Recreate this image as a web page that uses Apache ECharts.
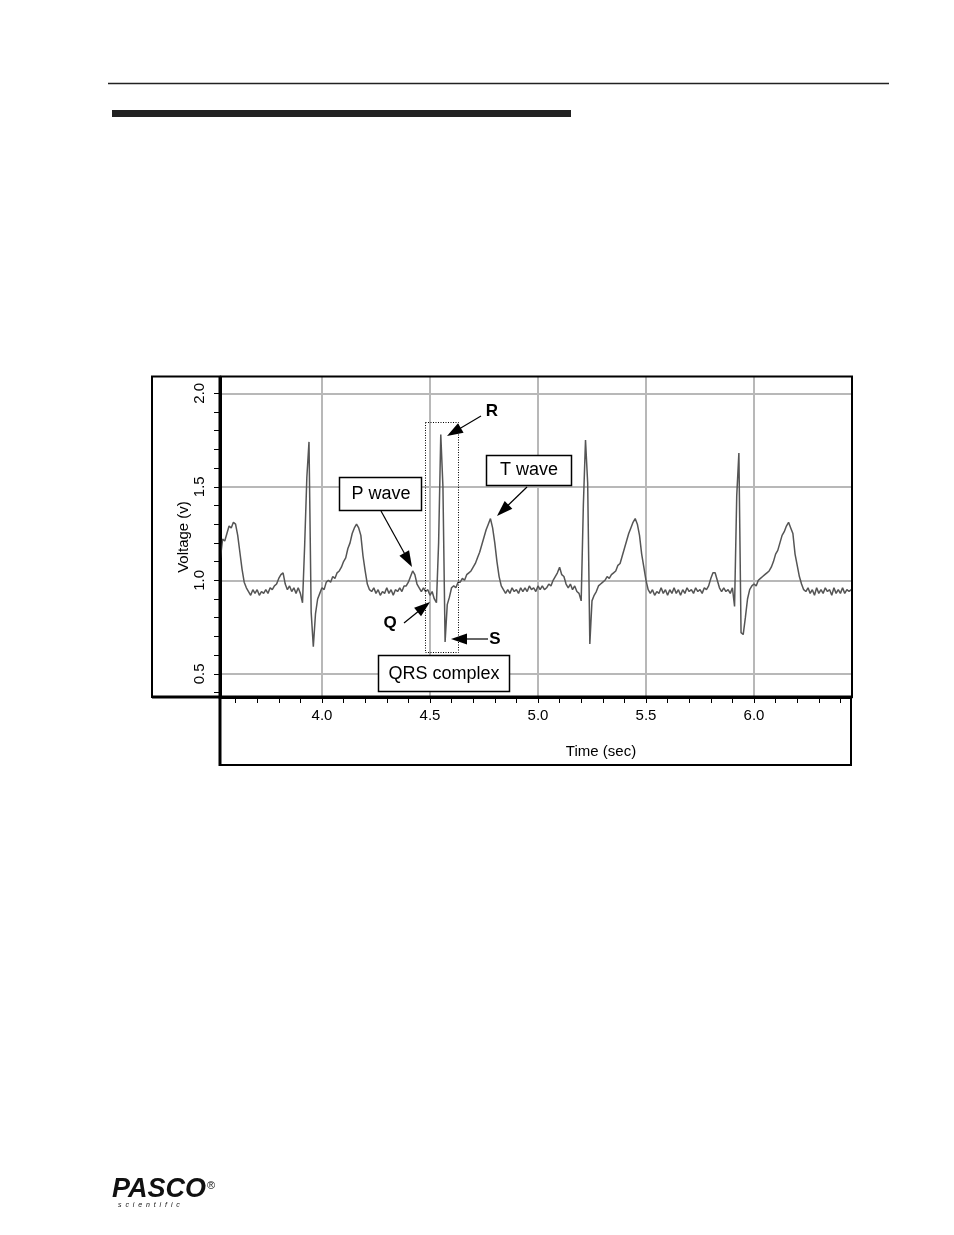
<!DOCTYPE html>
<html><head><meta charset="utf-8">
<script src="https://cdn.jsdelivr.net/npm/echarts@6/dist/echarts.min.js"></script>
<style>html,body{margin:0;padding:0;background:#fff}#c{width:954px;height:1235px}</style>
</head><body><div id="c"></div>
<script>
// ---- data (sampled every 0.01 s starting at 3.53 s) ----
const T_START = 3.53;
const T_STEP = 0.01;
const voltage = [
  1.12, 1.22, 1.21, 1.25, 1.29, 1.28, 1.31, 1.30, 1.24, 1.15,
  1.06, 0.99, 0.96, 0.94, 0.92, 0.95, 0.93, 0.95, 0.92, 0.94,
  0.93, 0.95, 0.93, 0.96, 0.95, 0.97, 0.98, 1.01, 1.03, 1.04,
  0.98, 0.95, 0.97, 0.94, 0.96, 0.93, 0.96, 0.93, 0.88, 1.19,
  1.55, 1.74, 0.83, 0.645, 0.82, 0.90, 0.93, 0.96, 0.95, 0.99,
  1.00, 0.99, 1.02, 1.01, 1.04, 1.05, 1.07, 1.10, 1.12, 1.17,
  1.20, 1.25, 1.28, 1.30, 1.28, 1.24, 1.13, 1.05, 0.98, 0.95,
  0.94, 0.96, 0.93, 0.95, 0.92, 0.94, 0.93, 0.96, 0.93, 0.95,
  0.92, 0.95, 0.94, 0.96, 0.94, 0.97, 0.97, 0.99, 1.02, 1.05,
  1.03, 0.98, 0.96, 0.94, 0.96, 0.94, 0.95, 0.92, 0.94, 0.90,
  0.88, 1.20, 1.78, 1.50, 0.67, 0.87, 0.91, 0.96, 0.97, 0.96,
  0.99, 0.99, 1.01, 1.00, 1.03, 1.04, 1.05, 1.07, 1.09, 1.12,
  1.15, 1.19, 1.23, 1.27, 1.30, 1.33, 1.28, 1.20, 1.10, 1.02,
  0.97, 0.95, 0.93, 0.95, 0.93, 0.96, 0.94, 0.95, 0.93, 0.96,
  0.94, 0.96, 0.94, 0.97, 0.95, 0.96, 0.94, 0.97, 0.95, 0.97,
  0.95, 0.96, 0.98, 0.97, 1.00, 1.02, 1.04, 1.07, 1.03, 1.02,
  0.98, 0.96, 0.98, 0.95, 0.97, 0.94, 0.93, 0.89, 1.40, 1.75,
  1.52, 0.66, 0.89, 0.92, 0.94, 0.97, 0.98, 0.99, 1.00, 1.02,
  1.01, 1.03, 1.04, 1.05, 1.08, 1.09, 1.13, 1.17, 1.21, 1.25,
  1.28, 1.31, 1.33, 1.30, 1.24, 1.14, 1.07, 1.00, 0.95, 0.93,
  0.95, 0.92, 0.94, 0.93, 0.96, 0.93, 0.95, 0.92, 0.95, 0.93,
  0.96, 0.93, 0.95, 0.92, 0.95, 0.93, 0.96, 0.94, 0.95, 0.93,
  0.96, 0.94, 0.95, 0.93, 0.96, 0.95, 0.97, 1.01, 1.04, 1.04,
  1.00, 0.96, 0.94, 0.96, 0.94, 0.95, 0.93, 0.96, 0.86, 1.45,
  1.68, 0.72, 0.71, 0.80, 0.90, 0.95, 0.97, 0.98, 0.97, 1.00,
  1.01, 1.02, 1.03, 1.04, 1.05, 1.07, 1.10, 1.14, 1.16, 1.20,
  1.24, 1.26, 1.29, 1.31, 1.28, 1.25, 1.14, 1.08, 1.02, 0.98,
  0.95, 0.94, 0.96, 0.93, 0.95, 0.92, 0.96, 0.93, 0.95, 0.93,
  0.96, 0.94, 0.95, 0.92, 0.96, 0.93, 0.95, 0.93, 0.96, 0.93,
  0.95, 0.94, 0.95
];
const xMajorTicks = [4.0, 4.5, 5.0, 5.5, 6.0];
const xMinorTicks = [3.6, 3.7, 3.8, 3.9, 4.0, 4.1, 4.2, 4.3, 4.4, 4.5, 4.6, 4.7, 4.8, 4.9, 5.0,
                     5.1, 5.2, 5.3, 5.4, 5.5, 5.6, 5.7, 5.8, 5.9, 6.0, 6.1, 6.2, 6.3, 6.4];
const yMajorTicks = [0.5, 1.0, 1.5, 2.0];
const yMinorTicks = [0.4, 0.5, 0.6, 0.7, 0.8, 0.9, 1.0, 1.1, 1.2, 1.3, 1.4, 1.5, 1.6, 1.7, 1.8, 1.9, 2.0];
const X_MIN = 3.528, X_MAX = 6.449;
const Y_MIN = 0.376, Y_MAX = 2.087;
const xTitle = 'Time (sec)';
const yTitle = 'Voltage (v)';
const annotations = { p: 'P wave', t: 'T wave', qrs: 'QRS complex', r: 'R', q: 'Q', s: 'S' };

// ---- build ----
const FONT = '"Liberation Sans", Arial, Helvetica, sans-serif';
const seriesData = voltage.map((v, i) => [Math.round((T_START + i * T_STEP) * 100) / 100, v]);
const fmt = v => v.toFixed(1);

function arrow(x1, y1, x2, y2) {
  const dx = x2 - x1, dy = y2 - y1, len = Math.hypot(dx, dy);
  const ux = dx / len, uy = dy / len, L = 16, W = 5.5;
  const bx = x2 - ux * L, by = y2 - uy * L;
  return [
    { type: 'line', z: 100, shape: { x1, y1, x2: bx + ux * 2, y2: by + uy * 2 }, style: { stroke: '#000', lineWidth: 1.2 } },
    { type: 'polygon', z: 100, shape: { points: [[x2, y2], [bx - uy * W, by + ux * W], [bx + uy * W, by - ux * W]] }, style: { fill: '#000' } }
  ];
}
function label(text, x, y, font) {
  return { type: 'text', z: 101, style: { text, x, y, align: 'center', verticalAlign: 'middle', font, fill: '#000' } };
}
function box(x, y, w, h) {
  return { type: 'rect', z: 99, shape: { x, y, width: w, height: h }, style: { fill: '#fff', stroke: '#000', lineWidth: 1.5 } };
}

const graphic = [
  { type: 'line', shape: { x1: 108, y1: 83.5, x2: 889, y2: 83.5 }, style: { stroke: '#222', lineWidth: 1.5 } },
  { type: 'rect', shape: { x: 112, y: 110, width: 459, height: 7 }, style: { fill: '#222' } },
  // frames
  { type: 'rect', z: 120, shape: { x: 152, y: 376.5, width: 700, height: 320.5 }, style: { fill: 'none', stroke: '#000', lineWidth: 2 } },
  { type: 'line', z: 120, shape: { x1: 152, y1: 697, x2: 852, y2: 697 }, style: { stroke: '#000', lineWidth: 3 } },
  { type: 'rect', z: 120, shape: { x: 220, y: 697, width: 631, height: 68 }, style: { fill: 'none', stroke: '#000', lineWidth: 2 } },
  { type: 'line', z: 120, shape: { x1: 220, y1: 376, x2: 220, y2: 766 }, style: { stroke: '#000', lineWidth: 3 } },
  // QRS dotted box
  { type: 'rect', z: 98, shape: { x: 425.5, y: 422.5, width: 33, height: 230 }, style: { fill: 'none', stroke: '#000', lineWidth: 1, lineDash: [1, 1.5] } },
  box(339.5, 477.5, 82, 33), label(annotations.p, 381, 494, '18px ' + FONT),
  box(486.5, 455.5, 85, 30), label(annotations.t, 529, 470, '18px ' + FONT),
  box(378.5, 655.5, 131, 36), label(annotations.qrs, 444, 674, '18px ' + FONT),
  label(annotations.r, 492, 411, 'bold 17px ' + FONT),
  label(annotations.q, 390, 623, 'bold 17px ' + FONT),
  label(annotations.s, 495, 639, 'bold 17px ' + FONT),
  ...arrow(381, 511, 412, 567),
  ...arrow(527, 487, 497, 516),
  ...arrow(481, 416, 447, 436),
  ...arrow(404, 623, 430, 602),
  ...arrow(488, 639, 451, 639),
  // logo
  { type: 'text', style: { text: 'PASCO', x: 112, y: 1190, verticalAlign: 'middle', font: 'italic 900 27px ' + FONT, fill: '#111' } },
  { type: 'text', style: { text: '®', x: 207, y: 1186, verticalAlign: 'middle', font: '11px ' + FONT, fill: '#111' } },
  { type: 'text', style: { text: 's  c  i  e  n  t  i  f  i  c', x: 118, y: 1205, verticalAlign: 'middle', font: 'italic 7px ' + FONT, fill: '#111' } }
];

const chart = echarts.init(document.getElementById('c'), null, { renderer: 'canvas' });
chart.setOption({
  animation: false,
  backgroundColor: '#fff',
  textStyle: { fontFamily: FONT },
  grid: { left: 220, right: 103, top: 377, bottom: 538, containLabel: false },
  xAxis: [
    {
      type: 'value', min: X_MIN, max: X_MAX, position: 'bottom',
      axisLine: { show: true, onZero: false, lineStyle: { color: '#000', width: 3 } },
      axisTick: { show: true, customValues: xMinorTicks, length: 6, lineStyle: { color: '#000', width: 1 } },
      axisLabel: { show: false }, splitLine: { show: false }, minorTick: { show: false }
    },
    {
      type: 'value', min: X_MIN, max: X_MAX, position: 'bottom',
      axisLine: { show: false, onZero: false },
      axisTick: { show: false, customValues: xMajorTicks },
      axisLabel: { show: true, customValues: xMajorTicks, formatter: fmt, margin: 11, color: '#000', fontSize: 15, fontFamily: FONT },
      splitLine: { show: true, lineStyle: { color: '#b8b8b8', width: 2 } },
      name: xTitle, nameLocation: 'middle', nameGap: 47, nameMoveOverlap: false,
      nameTextStyle: { color: '#000', fontSize: 15, fontFamily: FONT, padding: [0, 0, 0, 131] }
    }
  ],
  yAxis: [
    {
      type: 'value', min: Y_MIN, max: Y_MAX, position: 'left',
      axisLine: { show: false, onZero: false },
      axisTick: { show: false, customValues: yMajorTicks },
      axisLabel: { show: true, customValues: yMajorTicks, formatter: fmt, rotate: 90, margin: 13, color: '#000', fontSize: 15, fontFamily: FONT },
      splitLine: { show: true, lineStyle: { color: '#b8b8b8', width: 2 } },
      name: yTitle, nameLocation: 'middle', nameGap: 29, nameMoveOverlap: false,
      nameTextStyle: { color: '#000', fontSize: 15, fontFamily: FONT }
    },
    {
      type: 'value', min: Y_MIN, max: Y_MAX, position: 'left',
      axisLine: { show: true, onZero: false, lineStyle: { color: '#000', width: 3 } },
      axisTick: { show: true, customValues: yMinorTicks, length: 6, lineStyle: { color: '#000', width: 1 } },
      axisLabel: { show: false }, splitLine: { show: false }, minorTick: { show: false }
    }
  ],
  series: [{
    type: 'line', xAxisIndex: 0, yAxisIndex: 0, data: seriesData,
    showSymbol: false, symbol: 'none', smooth: false, clip: true,
    lineStyle: { color: '#555', width: 1.5 }
  }],
  graphic
});
</script></body></html>
